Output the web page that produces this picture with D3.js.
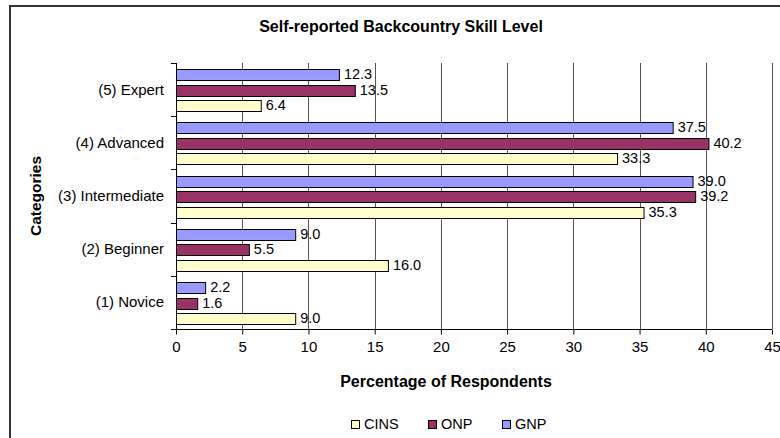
<!DOCTYPE html>
<html>
<head>
<meta charset="utf-8">
<script src="https://cdn.jsdelivr.net/npm/d3@7"></script>
<style>
  html, body { margin: 0; padding: 0; background: #fff; }
  svg { display: block; font-family: "Liberation Sans", Arial, sans-serif; }
</style>
</head>
<body>
<svg id="chart" width="780" height="438"></svg>
<script>
// Skill categories, bottom to top as listed on the axis
const categories = ["(1) Novice", "(2) Beginner", "(3) Intermediate", "(4) Advanced", "(5) Expert"];
// Percentage of respondents per survey group
const cins = [9.0, 16.0, 35.3, 33.3, 6.4];
const onp  = [1.6, 5.5, 39.2, 40.2, 13.5];
const gnp  = [2.2, 9.0, 39.0, 37.5, 12.3];
const seriesNames = ["CINS", "ONP", "GNP"];
const seriesColors = ["#FFFFCC", "#993366", "#9999FF"];
const xTicks = [0, 5, 10, 15, 20, 25, 30, 35, 40, 45];

const seriesValues = { CINS: cins, ONP: onp, GNP: gnp };

const svg = d3.select("#chart");
const W = 780, H = 438;
const plot = { left: 176, right: 772, top: 63, bottom: 329 };

// Outer chart frame
svg.append("path")
  .attr("d", `M10,438 L10,6 L780,6`)
  .attr("fill", "none")
  .attr("stroke", "#333")
  .attr("stroke-width", 2);

// Title
svg.append("text")
  .attr("x", 401).attr("y", 32)
  .attr("text-anchor", "middle")
  .attr("font-weight", "bold")
  .attr("font-size", 16)
  .text("Self-reported Backcountry Skill Level");

const x = d3.scaleLinear().domain([0, 45]).range([plot.left, plot.right]);
const y = d3.scaleBand()
  .domain(categories.slice().reverse())
  .range([plot.top, plot.bottom])
  .paddingInner(0).paddingOuter(0);
const inner = d3.scaleBand()
  .domain(["GNP", "ONP", "CINS"])
  .range([0, y.bandwidth()])
  .paddingInner(0.29).paddingOuter(0.36).align(0.56);

// Vertical gridlines
svg.append("g")
  .selectAll("line")
  .data(xTicks.filter(d => d > 0))
  .join("line")
  .attr("x1", d => Math.round(x(d)) + 0.5).attr("x2", d => Math.round(x(d)) + 0.5)
  .attr("y1", plot.top).attr("y2", plot.bottom)
  .attr("stroke", "#555").attr("stroke-width", 1);

// Bars
const rows = [];
categories.forEach((c, i) => {
  seriesNames.forEach((s, j) => {
    rows.push({ cat: c, series: s, value: seriesValues[s][i], color: seriesColors[j] });
  });
});

svg.append("g")
  .selectAll("rect")
  .data(rows)
  .join("rect")
  .attr("x", x(0) + 0.5)
  .attr("y", d => Math.round(y(d.cat) + inner(d.series)) + 0.5)
  .attr("width", d => x(d.value) - x(0))
  .attr("height", Math.round(inner.bandwidth()))
  .attr("fill", d => d.color)
  .attr("stroke", "#000")
  .attr("stroke-width", 1);

// Value labels
svg.append("g")
  .selectAll("text")
  .data(rows)
  .join("text")
  .attr("x", d => x(d.value) + 5)
  .attr("y", d => y(d.cat) + inner(d.series) + inner.bandwidth() / 2 + 4.5)
  .attr("font-size", 14.5)
  .attr("fill", "#000")
  .text(d => d.value.toFixed(1));

// X axis
const xAxis = d3.axisBottom(x).tickValues(xTicks).tickSize(5).tickPadding(7).tickFormat(d3.format("d"));
const gx = svg.append("g")
  .attr("transform", `translate(0,${plot.bottom + 0.5})`)
  .call(xAxis);
gx.select(".domain").attr("stroke", "#000").attr("d", `M${plot.left},0H${plot.right}`);
gx.selectAll(".tick line").attr("stroke", "#000");
gx.selectAll(".tick text")
  .attr("font-size", 15)
  .attr("font-family", "Liberation Sans, Arial, sans-serif")
  .attr("fill", "#000");

// Y axis: ticks at category boundaries
const boundaries = categories.map(c => y(c)).concat([plot.bottom]);
const gy = svg.append("g");
gy.append("line")
  .attr("x1", plot.left + 0.5).attr("x2", plot.left + 0.5)
  .attr("y1", plot.top).attr("y2", plot.bottom + 5)
  .attr("stroke", "#000");
gy.selectAll("line.tk")
  .data(boundaries)
  .join("line")
  .attr("class", "tk")
  .attr("x1", plot.left - 5).attr("x2", plot.left)
  .attr("y1", d => Math.round(d) + 0.5).attr("y2", d => Math.round(d) + 0.5)
  .attr("stroke", "#000");
gy.selectAll("text")
  .data(categories)
  .join("text")
  .attr("x", 164)
  .attr("y", d => y(d) + y.bandwidth() / 2 + 5)
  .attr("text-anchor", "end")
  .attr("font-size", 15)
  .text(d => d);

// Axis titles
svg.append("text")
  .attr("x", 446).attr("y", 387)
  .attr("text-anchor", "middle")
  .attr("font-weight", "bold")
  .attr("font-size", 16)
  .text("Percentage of Respondents");

svg.append("text")
  .attr("transform", `translate(41,${(plot.top + plot.bottom) / 2}) rotate(-90)`)
  .attr("text-anchor", "middle")
  .attr("font-weight", "bold")
  .attr("font-size", 15.5)
  .text("Categories");

// Legend
const legendX = [351, 428, 502];
const lg = svg.append("g").selectAll("g")
  .data(seriesNames)
  .join("g")
  .attr("transform", (d, i) => `translate(${legendX[i]},420)`);
lg.append("rect")
  .attr("x", 0.5).attr("y", 0.5)
  .attr("width", 8).attr("height", 8)
  .attr("fill", (d, i) => seriesColors[i])
  .attr("stroke", "#000");
lg.append("text")
  .attr("x", 13).attr("y", 8.5)
  .attr("font-size", 14.5)
  .text(d => d);
</script>
</body>
</html>
